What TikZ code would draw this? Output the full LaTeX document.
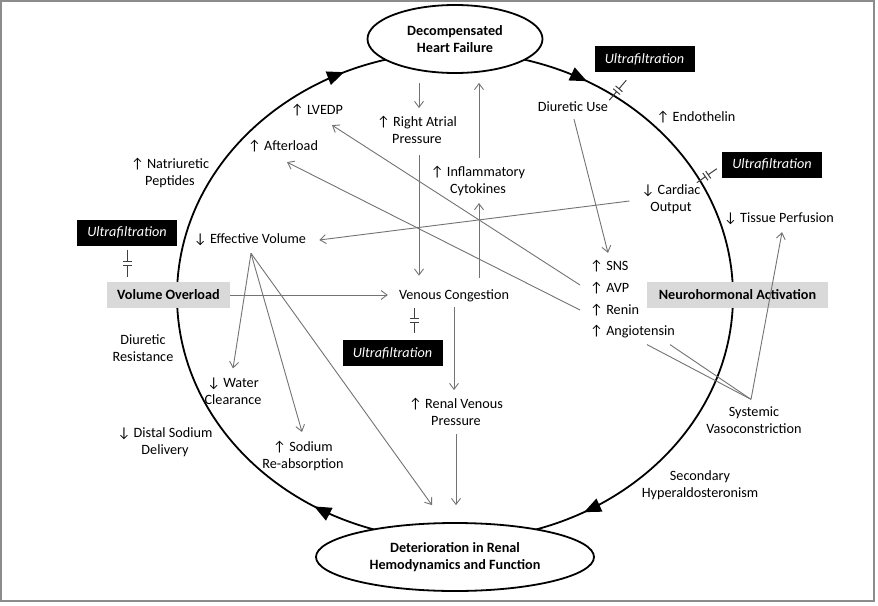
\documentclass[tikz,border=0pt]{standalone}
\usepackage{fontspec}
\setmainfont{Carlito}
\usetikzlibrary{shapes.geometric,arrows.meta,decorations.markings,calc}
\definecolor{cgray}{RGB}{115,115,115}
\definecolor{boxgray}{RGB}{217,217,217}
\definecolor{framegray}{RGB}{140,140,140}
\newcommand\brksym[2]{%
  \coordinate (bkA) at #1;
  \coordinate (bkB) at #2;
  \coordinate (bk1) at ($(bkA)!0.43!(bkB)$);
  \coordinate (bk2) at ($(bkA)!0.57!(bkB)$);
  \draw[brkline] (bkA) -- (bk1) (bk2) -- (bkB)
    ($(bk1)!4.5pt!90:(bkB)$) -- ($(bk1)!4.5pt!-90:(bkB)$)
    ($(bk2)!4.5pt!90:(bkB)$) -- ($(bk2)!4.5pt!-90:(bkB)$);}
\begin{document}
\begin{tikzpicture}[x=1pt,y=-1pt,
  font=\fontsize{14.2}{17}\selectfont,
  lbl/.style={inner sep=0pt, align=center},
  conn/.style={draw=cgray, line width=0.9pt, -{Straight Barb[length=6pt,width=9pt]}},
  cline/.style={draw=cgray, line width=0.9pt},
  brkline/.style={draw=black!75, line width=1pt},
  ufbox/.style={fill=black, text=white, font=\fontsize{14.2}{17}\selectfont\itshape,
    minimum width=100pt, minimum height=26pt, inner sep=0pt},
  gbox/.style={fill=boxgray, font=\fontsize{14.2}{17}\selectfont\bfseries,
    minimum height=26pt, inner sep=0pt},
  ell/.style={ellipse, draw, line width=1.8pt, fill=white, align=center,
    font=\fontsize{14.2}{17}\selectfont\bfseries,
    minimum width=175pt, minimum height=68pt, inner sep=2pt},
  bigtip/.style={}]
\useasboundingbox (0,0) rectangle (878,605);
\fill[white] (0,0) rectangle (878,605);
\draw[framegray, line width=1.2pt] (1,1) rectangle (874,601);

% main cycle
\draw[line width=1.8pt, postaction={decorate}, decoration={markings,
   mark=at position 0.083 with {\arrow{Triangle[length=17pt,width=14pt]}},
   mark=at position 0.419 with {\arrow{Triangle[length=17pt,width=14pt]}},
   mark=at position 0.589 with {\arrow{Triangle[length=17pt,width=14pt]}},
   mark=at position 0.931 with {\arrow{Triangle[length=17pt,width=14pt]}}}]
  (455,52) arc[start angle=-90, end angle=270, x radius=278, y radius=244];

\node[ell] (HF) at (455,39) {Decompensated\\Heart Failure};
\node[ell, minimum width=278pt] (RF) at (455,557) {Deterioration in Renal\\Hemodynamics and Function};

\node[gbox, minimum width=123pt] (VO) at (168.5,295) {Volume Overload};
\node[gbox, minimum width=181pt] (NA) at (737.5,295) {Neurohormonal Activation};

\node[ufbox] (UF1) at (644.5,59) {Ultrafiltration};
\node[ufbox] (UF2) at (772,164.5) {Ultrafiltration};
\node[ufbox] (UF3) at (127,232.5) {Ultrafiltration};
\node[ufbox] (UF4) at (392.5,353) {Ultrafiltration};

% labels
\node[lbl] (LVEDP) at (317,110) {↑ LVEDP};
\node[lbl] (RAP) at (417,130) {↑ Right Atrial\\Pressure};
\node[lbl] (IC) at (478,181) {↑ Inflammatory\\Cytokines};
\node[lbl] (DU) at (573,107) {Diuretic Use};
\node[lbl] (ENDO) at (696,117) {↑ Endothelin};
\node[lbl] (AFT) at (283,146) {↑ Afterload};
\node[lbl] (NP) at (170,173) {↑ Natriuretic\\Peptides};
\node[lbl] (CO) at (671,199) {↓ Cardiac\\Output};
\node[lbl] (TP) at (779,219) {↓ Tissue Perfusion};
\node[lbl] (EV) at (250,240) {↓ Effective Volume};
\node[lbl] (VC) at (454,296) {Venous Congestion};
\node[lbl, anchor=west] (SNS) at (590,266) {↑ SNS};
\node[lbl, anchor=west] (AVP) at (590,288) {↑ AVP};
\node[lbl, anchor=west] (REN) at (590,310) {↑ Renin};
\node[lbl, anchor=west] (ANG) at (590,332) {↑ Angiotensin};
\node[lbl] (DR) at (143,348) {Diuretic\\Resistance};
\node[lbl] (WC) at (233,391) {↓ Water\\Clearance};
\node[lbl] (DSD) at (165,442) {↓ Distal Sodium\\Delivery};
\node[lbl] (SR) at (303,456) {↑ Sodium\\Re-absorption};
\node[lbl] (RVP) at (456,412) {↑ Renal Venous\\Pressure};
\node[lbl] (SV) at (754,420) {Systemic\\Vasoconstriction};
\node[lbl] (SH) at (700,485) {Secondary\\Hyperaldosteronism};

% connectors
\draw[conn] ($(HF.south -| RAP)+(2,9)$) -- ($(RAP.north)+(2,-8)$);
\draw[conn] ($(RAP.south)+(2,11)$) -- ($(VC.north -| RAP)+(2,-14)$);
\draw[conn] ($(IC.north)+(1,-8)$) -- ($(IC.north |- HF.south)+(1,9)$);
\draw[conn] ($(VC.north -| IC)+(1,-12)$) -- ($(IC.south)+(1,7)$);
\draw[conn] ($(VC.south)+(0,5)$) -- ($(RVP.north)+(-2,-8)$);
\draw[conn] ($(RVP.south)+(0,8)$) -- ($(RF.north)+(1,-17)$);
\draw[conn, shorten >=11pt] (VO.east) -- (VO.east -| VC.west);
\draw[conn] ($(CO.west)+(-12,2)$) -- ($(EV.east)+(13,0)$);
\draw[conn] ($(AVP.west)+(-10,-3)$) -- ($(LVEDP.south)+(15,9)$);
\draw[conn] ($(REN.west)+(-10,0)$) -- ($(AFT.south)+(4,10)$);
\draw[conn] ($(DU.south)+(1,7)$) -- ($(SNS.north west)+(18,-7)$);
\coordinate (evS) at ($(EV.south)+(1,7)$);
\draw[conn] (evS) -- ($(WC.north)+(0,-9)$);
\draw[conn] (evS) -- ($(SR.north)+(-1,-9)$);
\draw[conn] (evS) -- ($(RF.north)+(-23,-17)$);
\coordinate (svT) at ($(SV.north)+(-3,-7)$);
\draw[cline] ($(ANG.south west)+(57,6)$) -- (svT);
\draw[cline] ($(ANG.south west)+(80,6)$) -- (svT);
\draw[conn] (svT) -- ($(TP.south)+(3,7)$);

% ultrafiltration break symbols
\brksym{($(UF1.south west)+(15,28)$)}{($(UF1.south west)+(32,8)$)}
\brksym{($(UF2.south west)+(-25,5)$)}{($(UF2.south west)+(-5,-9)$)}
\brksym{($(UF3.south)+(0,4)$)}{($(VO.north -| UF3)+(0,-5)$)}
\brksym{($(UF4.north)+(22,-32)$)}{($(UF4.north)+(22,-7)$)}
\end{tikzpicture}
\end{document}
